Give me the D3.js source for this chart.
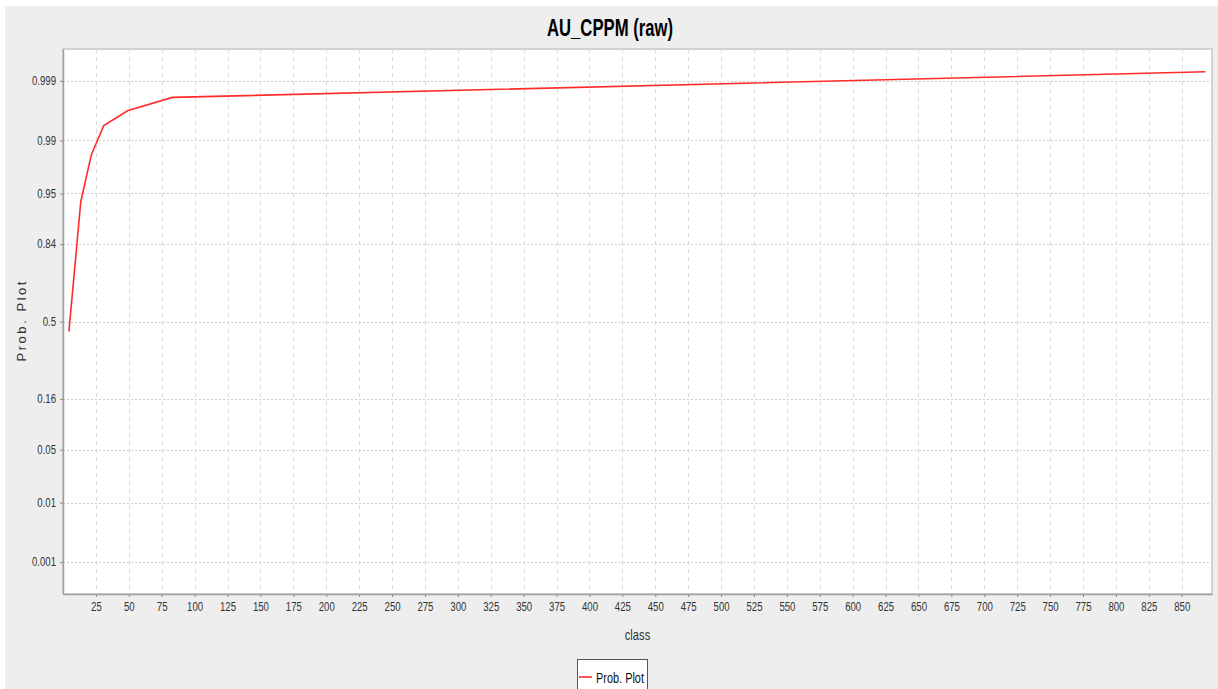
<!DOCTYPE html>
<html>
<head>
<meta charset="utf-8">
<script src="https://cdn.jsdelivr.net/npm/d3@7"></script>
<style>
  html, body { margin: 0; padding: 0; background: #ffffff; }
  svg { display: block; }
  text { font-family: "Liberation Sans", Arial, sans-serif; }
</style>
</head>
<body>
<svg id="chart" width="1218" height="689"></svg>
<script>
// ---- data ----
const title = "AU_CPPM (raw)";
const xLabel = "class";
const yLabel = "Prob. Plot";
const seriesName = "Prob. Plot";
const classValues = [4.5, 13.5, 21.5, 31, 49, 83, 868];
const probValues = [0.449, 0.938, 0.9838, 0.9941, 0.9966, 0.9980, 0.99933];
const xTickValues = d3.range(25, 851, 25);
const yTickValues = [0.001, 0.01, 0.05, 0.16, 0.5, 0.84, 0.95, 0.99, 0.999];
const yTickLabels = ["0.001", "0.01", "0.05", "0.16", "0.5", "0.84", "0.95", "0.99", "0.999"];

// inverse standard normal CDF (Acklam)
function probit(p) {
  const a = [-3.969683028665376e+01, 2.209460984245205e+02, -2.759285104469687e+02, 1.383577518672690e+02, -3.066479806614716e+01, 2.506628277459239e+00];
  const b = [-5.447609879822406e+01, 1.615858368580409e+02, -1.556989798598866e+02, 6.680131188771972e+01, -1.328068155288572e+01];
  const c = [-7.784894002430293e-03, -3.223964580411365e-01, -2.400758277161838e+00, -2.549732539343734e+00, 4.374664141464968e+00, 2.938163982698783e+00];
  const d = [7.784695709041462e-03, 3.224671290700398e-01, 2.445134137142996e+00, 3.754408661907416e+00];
  const pl = 0.02425, ph = 1 - pl;
  if (p < pl) {
    const q = Math.sqrt(-2 * Math.log(p));
    return (((((c[0]*q+c[1])*q+c[2])*q+c[3])*q+c[4])*q+c[5]) / ((((d[0]*q+d[1])*q+d[2])*q+d[3])*q+1);
  }
  if (p <= ph) {
    const q = p - 0.5, r = q * q;
    return (((((a[0]*r+a[1])*r+a[2])*r+a[3])*r+a[4])*r+a[5])*q / (((((b[0]*r+b[1])*r+b[2])*r+b[3])*r+b[4])*r+1);
  }
  const q = Math.sqrt(-2 * Math.log(1 - p));
  return -(((((c[0]*q+c[1])*q+c[2])*q+c[3])*q+c[4])*q+c[5]) / ((((d[0]*q+d[1])*q+d[2])*q+d[3])*q+1);
}

// condense text horizontally (reference uses a narrow face)
function condense(sel, k) {
  sel.each(function () {
    const L = this.getComputedTextLength();
    this.setAttribute("textLength", (L * k).toFixed(2));
    this.setAttribute("lengthAdjust", "spacingAndGlyphs");
  });
}

const data = classValues.map((c, i) => ({ c, p: probValues[i] }));

const svg = d3.select("#chart");
const W = 1218, H = 689;
const plot = { left: 63, top: 49, right: 1212, bottom: 594 };

// panel background
svg.append("rect").attr("x", 5).attr("y", 6).attr("width", W - 5).attr("height", H - 6).attr("fill", "#eeeeee");

const x = d3.scaleLinear().domain([0, 873]).range([plot.left, plot.right]);
const y = d3.scaleLinear().domain([-3.5, 3.5]).range([plot.bottom, plot.top]);

// plot area
svg.append("rect")
  .attr("x", plot.left).attr("y", plot.top)
  .attr("width", plot.right - plot.left).attr("height", plot.bottom - plot.top)
  .attr("fill", "#ffffff").attr("stroke", "#c8c8c8").attr("stroke-width", 1.5);

// grid
const grid = svg.append("g");
grid.selectAll("line.vg").data(xTickValues).join("line")
  .attr("x1", d => Math.round(x(d)) + 0.5).attr("x2", d => Math.round(x(d)) + 0.5)
  .attr("y1", plot.top).attr("y2", plot.bottom)
  .attr("stroke", "#d9d9d9").attr("stroke-width", 1).attr("stroke-dasharray", "4,4");
grid.selectAll("line.hg").data(yTickValues).join("line")
  .attr("y1", d => Math.round(y(probit(d))) + 0.5).attr("y2", d => Math.round(y(probit(d))) + 0.5)
  .attr("x1", plot.left).attr("x2", plot.right)
  .attr("stroke", "#cfcfcf").attr("stroke-width", 1).attr("stroke-dasharray", "2,2");

// axes
const xAxis = d3.axisBottom(x).tickValues(xTickValues).tickSizeInner(3).tickSizeOuter(0).tickPadding(5).tickFormat(d3.format("d"));
const gx = svg.append("g").attr("transform", `translate(0,${plot.bottom})`).call(xAxis);
gx.select(".domain").attr("stroke", "#a0a0a0").attr("stroke-width", 1.5);
gx.selectAll(".tick line").attr("stroke", "#8a8a8a");
gx.selectAll(".tick text").attr("font-size", 12).attr("fill", "#333333").call(condense, 0.8);

const yAxis = d3.axisLeft(y).tickValues(yTickValues.map(probit)).tickSizeInner(3).tickSizeOuter(0).tickPadding(4)
  .tickFormat((d, i) => yTickLabels[i]);
const gy = svg.append("g").attr("transform", `translate(${plot.left},0)`).call(yAxis);
gy.select(".domain").attr("stroke", "#a0a0a0").attr("stroke-width", 1.5);
gy.selectAll(".tick line").attr("stroke", "#8a8a8a");
gy.selectAll(".tick text").attr("font-size", 12).attr("fill", "#333333").call(condense, 0.8);

// line
const line = d3.line().x(d => x(d.c)).y(d => y(probit(d.p)));
svg.append("path").datum(data)
  .attr("d", line).attr("fill", "none")
  .attr("stroke", "#ff2a2a").attr("stroke-width", 1.6);

// title
svg.append("text").attr("x", 610).attr("y", 36).attr("text-anchor", "middle")
  .attr("font-size", 23).attr("font-weight", "bold").attr("fill", "#000")
  .attr("textLength", 126).attr("lengthAdjust", "spacingAndGlyphs").text(title);

// axis labels
svg.append("text").attr("x", (plot.left + plot.right) / 2).attr("y", 640).attr("text-anchor", "middle")
  .attr("font-size", 14).attr("fill", "#333").text(xLabel).call(condense, 0.8);
svg.append("text").attr("transform", `translate(26,${(plot.top + plot.bottom) / 2}) rotate(-90)`)
  .attr("text-anchor", "middle").attr("font-size", 13).attr("fill", "#333")
  .attr("textLength", 80).attr("lengthAdjust", "spacing").text(yLabel);

// legend
const lg = svg.append("g");
lg.append("rect").attr("x", 577.5).attr("y", 659.5).attr("width", 70).attr("height", 40)
  .attr("fill", "#ffffff").attr("stroke", "#555555").attr("stroke-width", 1);
lg.append("line").attr("x1", 579).attr("x2", 592).attr("y1", 677).attr("y2", 677)
  .attr("stroke", "#ff2a2a").attr("stroke-width", 1.6);
lg.append("text").attr("x", 596).attr("y", 683).attr("font-size", 14).attr("fill", "#111")
  .text(seriesName).call(condense, 0.78);
</script>
</body>
</html>
